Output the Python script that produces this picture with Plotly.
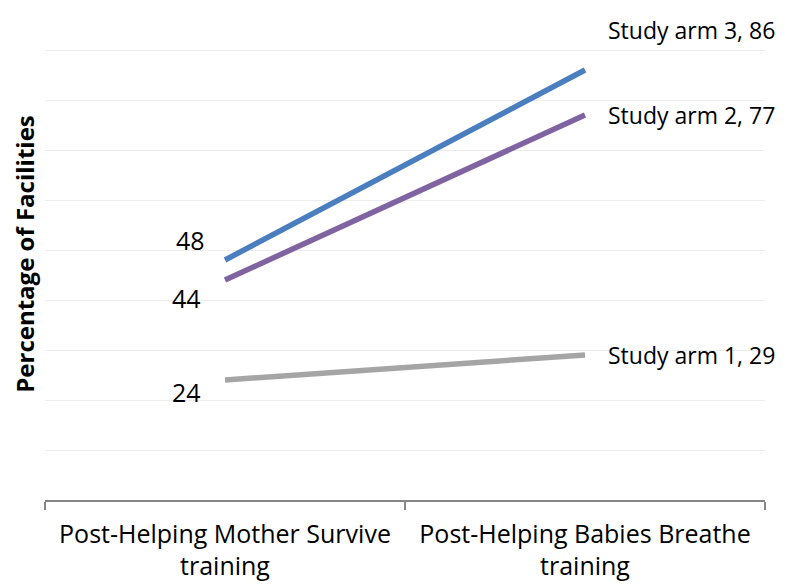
import plotly.graph_objects as go

categories = ["Post-Helping Mother Survive<br>training", "Post-Helping Babies Breathe<br>training"]
series_names = ["Study arm 1", "Study arm 2", "Study arm 3"]
arm1 = [24, 29]
arm2 = [44, 77]
arm3 = [48, 86]
colors = ["#A5A5A5", "#8064A2", "#4A7EBF"]

FONT = "Open Sans"
FS = 25
fig = go.Figure()
for name, vals, col in [(series_names[0], arm1, colors[0]),
                        (series_names[1], arm2, colors[1]),
                        (series_names[2], arm3, colors[2])]:
    fig.add_trace(go.Scatter(x=categories, y=vals, mode="lines", name=name,
                             line=dict(color=col, width=5.5), showlegend=False))

# start-value labels
start_specs = [(arm1[0], -22, -12), (arm2[0], -22, -18), (arm3[0], -18, 20)]
for v, xs, ys in start_specs:
    fig.add_annotation(x=categories[0], y=v, text=str(v), showarrow=False,
                       xanchor="right", yanchor="middle", xshift=xs, yshift=ys,
                       font=dict(family=FONT, size=FS, color="#000"))
# end labels
end_specs = [(series_names[0], arm1[1], 0), (series_names[1], arm2[1], 0), (series_names[2], arm3[1], 40)]
for n, v, ys in end_specs:
    fig.add_annotation(x=categories[1], y=v, text=f"{n}, {v}", showarrow=False,
                       xanchor="left", yanchor="middle", xshift=21, yshift=ys,
                       font=dict(family=FONT, size=23, color="#000"))

fig.update_layout(
    width=779, height=576,
    margin=dict(l=37, r=22, t=0, b=84, autoexpand=False),
    plot_bgcolor="white", paper_bgcolor="white",
    font=dict(family=FONT, size=FS, color="#000"),
    xaxis=dict(type="category", range=[-0.5, 1.5], tickson="boundaries",
               ticks="outside", ticklen=8, tickcolor="#868686", tickwidth=1.5,
               showline=True, linecolor="#868686", linewidth=1.5,
               showgrid=False, automargin=False, ticklabelstandoff=11,
               tickfont=dict(family=FONT, size=FS, color="#000")),
    yaxis=dict(range=[0, 98.4], dtick=10, showticklabels=False, ticks="",
               showgrid=True, gridcolor="#EDEDED", gridwidth=1, zeroline=False,
               automargin=False,
               title=dict(text="<b>Percentage of Facilities</b>", standoff=24,
                          font=dict(family=FONT, size=24, color="#000"))),
)

fig.write_html("out.html")
